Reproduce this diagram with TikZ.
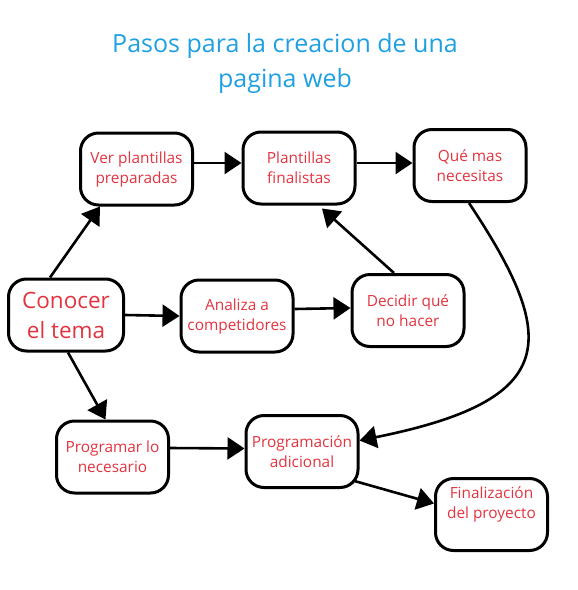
\documentclass[tikz,border=0pt]{standalone}
\usepackage{fontspec}
\setmainfont{Open Sans}
\usepackage{tikz}
\usetikzlibrary{arrows.meta}
\definecolor{txtred}{RGB}{226,52,64}
\definecolor{ttlblue}{RGB}{30,160,226}

\begin{document}
\begin{tikzpicture}[x=1pt,y=-1pt,
    >={Triangle[length=17pt,width=22pt]}, line width=2.6pt,
    box/.style={draw, line width=3pt, rounded corners=18pt, text=txtred,
      align=center, minimum width=112pt, minimum height=72pt,
      font=\fontsize{15.4}{20}\selectfont},
    node distance=171pt]
    \useasboundingbox (0,0) rectangle (578,590);

    \node[text=ttlblue, align=center, font=\fontsize{25}{35}\selectfont] (title) at (285,64) {Pasos para la creacion de una\\pagina web};

    \node[box, minimum width=115pt, font=\fontsize{22.5}{30}\selectfont] (con) at (66,315) {Conocer\\el tema};
    \node[box, right of=con, yshift=-1] (ana) {Analiza a\\competidores};
    \node[box, right of=ana, yshift=5.5] (dec) {Decidir qué\\no hacer};
    \node[box, above of=con, node distance=146pt, xshift=70.5] (ver) {Ver plantillas\\preparadas};
    \node[box, right of=ver, xshift=-8.5, yshift=1] (pf) {Plantillas\\finalistas};
    \node[box, right of=pf, yshift=2.5] (qm) {Qué mas\\necesitas};
    \node[box, below of=con, node distance=142pt, xshift=46.5] (prog) {Programar lo\\necesario};
    \node[box, right of=prog, xshift=18.5, yshift=5.5] (pa) {Programación\\adicional};
    \node[box, right of=pa, xshift=18.5, yshift=-63, text depth=24pt] (fin) {Finalización\\del proyecto};

    \draw[->] ([xshift=-16]con.north) -- ([xshift=-36.5]ver.south);
    \draw[->] ([yshift=6]ver.east) -- ([yshift=5]pf.west);
    \draw[->] ([yshift=5]pf.east) -- ([yshift=2.5]qm.west);
    \draw[->] (con.east) -- (ana.west);
    \draw[->] ([yshift=7]ana.east) -- ([yshift=2.5]dec.west);
    \draw[->] ([xshift=-14]dec.north) -- ([xshift=23,yshift=-3]pf.south);
    \draw[->] ([xshift=-1]qm.south) .. controls (560,340) and (560,400) .. ([yshift=11]pa.east);
    \draw[->] ([xshift=2]con.south) -- ([xshift=-7]prog.north);
    \draw[->] ([yshift=9]prog.east) -- ([yshift=3]pa.west);
    \draw[->] ([xshift=-5,yshift=8]pa.south east) -- ([yshift=11]fin.west);
  \end{tikzpicture}
\end{document}
